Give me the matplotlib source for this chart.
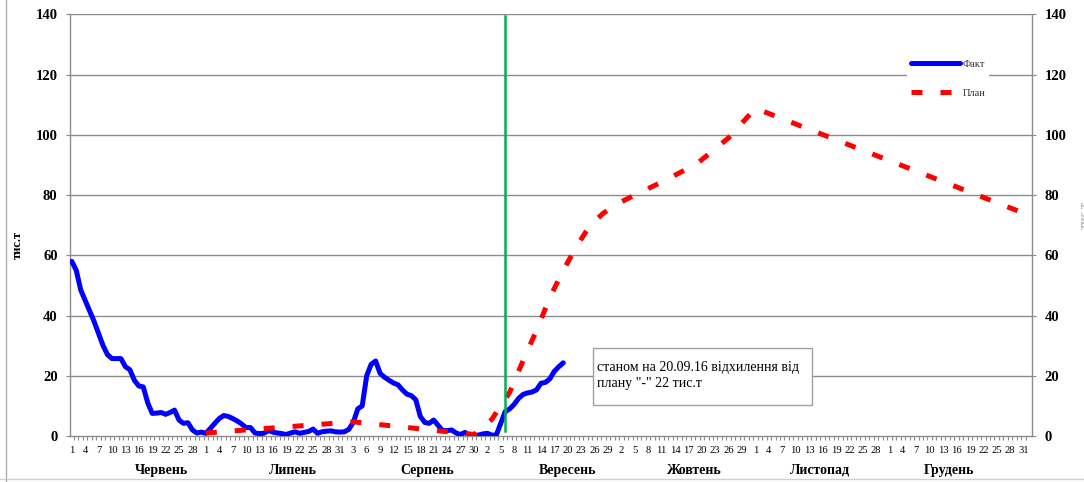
import numpy as np
import pandas as pd
import matplotlib
matplotlib.use("Agg")
import matplotlib.pyplot as plt
from matplotlib.lines import Line2D
from matplotlib.patches import Rectangle
from matplotlib.transforms import blended_transform_factory

plt.rcParams['font.family'] = ['Liberation Serif', 'DejaVu Serif']

# daily dates on the category axis: 1 June .. 31 December
dates = pd.date_range("2016-06-01", "2016-12-31", freq="D")
dayLabels = [str(d.day) for d in dates]

monthNames = ["Червень", "Липень", "Серпень", "Вересень", "Жовтень", "Листопад", "Грудень"]
monthLabelPos = [20.0, 49.4, 79.6, 110.9, 139.4, 167.4, 196.4]

# fact, thousand tonnes, daily from 1 June
factVals = [58, 55, 48.5, 45, 41.5, 38, 34, 30, 27, 25.7,
            25.7, 25.7, 23, 22, 18.5, 16.6, 16.3, 11, 7.5, 7.6,
            7.8, 7.2, 7.8, 8.6, 5.3, 4.2, 4.4, 2.0, 1.0, 1.3,
            0.9, 2.5, 4.2, 5.8, 6.8, 6.5, 5.8, 5.0, 4.0, 2.8,
            2.8, 1.0, 0.8, 0.9, 1.8, 1.3, 1.0, 0.8, 0.5, 1.0,
            1.4, 0.9, 1.2, 1.5, 2.3, 0.9, 1.4, 1.6, 1.7, 1.4,
            1.3, 1.4, 2.2, 4.5, 9.0, 10.0, 20.0, 23.8, 24.9, 20.8,
            19.5, 18.5, 17.6, 17.0, 15.3, 13.9, 13.4, 12.0, 6.5, 4.5,
            4.2, 5.3, 3.5, 1.8, 1.8, 2.0, 1.0, 0.5, 1.2, 0.3,
            0.3, 0.3, 0.7, 0.9, 0.3, 0.3, 4.2, 8.1, 9.0, 10.5,
            12.5, 13.8, 14.3, 14.6, 15.3, 17.5, 17.8, 19.0, 21.5, 23.0,
            24.3]

# plan, read at its turning points (day index from 1 June)
planDays = [30, 63, 90, 94, 98, 101, 104, 107, 110, 113, 116, 119, 122, 126, 133, 140, 147, 153, 213]
planVals = [1.0, 4.7, 0.5, 5.5, 14.5, 25, 35, 46, 55, 63, 70, 74, 77, 80, 85, 90.5, 99, 108.8, 74]

reportDay = 97
noteText = "станом на 20.09.16 відхилення від\nплану \"-\" 22 тис.т"

fig = plt.figure(figsize=(10.84, 4.82), dpi=100)
ax = fig.add_axes([70 / 1084, 46 / 482, 962 / 1084, 421.7 / 482])

gridColor = "#8c8c8c"
for v in range(20, 141, 20):
    ax.axhline(v, color=gridColor, linewidth=1.0, zorder=0)

factLine, = ax.plot(np.arange(len(factVals)), factVals, color="#0000ff", linewidth=3.6,
                    solid_joinstyle="round", solid_capstyle="round", zorder=3, label="Факт")
planLine, = ax.plot(planDays, planVals, color="#ff0000", linewidth=3.6,
                    linestyle=(0, (2.2, 3.6)), zorder=4, label="План")
ax.plot([reportDay, reportDay], [1.5, 139.3], color="#00b050", linewidth=1.8, zorder=5)

ax.set_xlim(-0.4, 214.9)
ax.set_ylim(0, 140)

ax.set_xticks(np.arange(0, len(dates), 3))
ax.set_xticklabels(dayLabels[::3], fontsize=7.6)
ax.set_xticks(np.arange(0.5, len(dates), 1), minor=True)
ax.tick_params(axis="x", which="major", length=0, pad=7)
ax.tick_params(axis="x", which="minor", length=3, color=gridColor, width=0.8)

ax.set_yticks(range(0, 141, 20))
ax.tick_params(axis="y", which="major", length=3, color=gridColor, labelsize=10.5,
               right=True, labelright=True, pad=6)
for t in ax.yaxis.get_major_ticks():
    t.label1.set_fontweight("bold")
    t.label2.set_fontweight("bold")

for side in ["left", "right", "bottom"]:
    ax.spines[side].set_color(gridColor)
    ax.spines[side].set_linewidth(1.0)
ax.spines["top"].set_visible(False)

trans = blended_transform_factory(ax.transData, ax.transAxes)
for name, pos in zip(monthNames, monthLabelPos):
    ax.text(pos, -0.081, name, transform=trans, ha="center", va="center",
            fontsize=10, fontweight="bold")

fig.text(18 / 1084, 1 - 245 / 482, "тис.т", rotation=90, ha="center", va="center",
         fontsize=9, fontweight="bold")
fig.text(1079 / 1084, 1 - 215 / 482, "тис.т", rotation=90, ha="left", va="center",
         fontsize=9, fontweight="bold", color="#bbbbbb")

leg = ax.legend(handles=[factLine, planLine], loc="upper left",
                bbox_to_anchor=(902 / 1084, 1 - 50 / 482), bbox_transform=fig.transFigure,
                fontsize=7.5, handlelength=4.7, handletextpad=0.2, labelspacing=1.9,
                borderpad=0.4, frameon=True, fancybox=False)
leg.get_frame().set_facecolor("white")
leg.get_frame().set_edgecolor("none")
leg.get_frame().set_alpha(1)
for txt in leg.get_texts():
    txt.set_color("#333333")

# note box
fig.add_artist(Rectangle((593 / 1084, 1 - 405 / 482), 219 / 1084, 57 / 482,
                         transform=fig.transFigure, facecolor="white", edgecolor="#a0a0a0",
                         linewidth=1, zorder=10))
fig.text(597 / 1084, 1 - 375.5 / 482, noteText, ha="left", va="center", fontsize=10,
         linespacing=1.35, zorder=11)

# outer chart border as in the source
fig.add_artist(Line2D([6 / 1084, 6 / 1084], [0, 1], color="#b0b0b0", linewidth=1))
fig.add_artist(Line2D([0, 1], [3 / 482, 3 / 482], color="#d0d0d0", linewidth=1))

fig.savefig("out.png", dpi=100)
